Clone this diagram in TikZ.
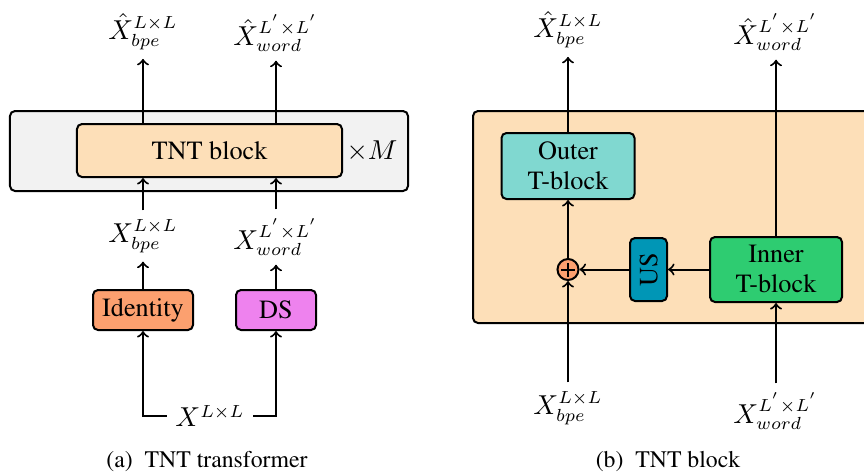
\documentclass[tikz,border=0pt]{standalone}
\usepackage[T1]{fontenc}
\usepackage{times}
\definecolor{stackfill}{HTML}{F2F2F2}
\definecolor{blockfill}{HTML}{FDDFB8}
\definecolor{idfill}{HTML}{FCA06F}
\definecolor{dsfill}{HTML}{EE82EE}
\definecolor{outerfill}{HTML}{80D8D0}
\definecolor{innerfill}{HTML}{2ECC71}
\definecolor{usfill}{HTML}{0096B6}
\tikzset{
	blk/.style = {draw, thick, rounded corners = 2pt, align = center, inner sep = 0pt},
	arr/.style = {->, thick},
	capt/.style = {font = \fontsize{9.5}{11}\selectfont},
}
\begin{document}
\begin{tikzpicture}[x = 0.4pt, y = -0.4pt, font = \fontsize{10.5}{12}\selectfont]
	\clip ( 0, 0 ) rectangle ( 864, 475 );
	% (a) TNT transformer
	\node [blk, fill = stackfill, minimum width = 159.2pt, minimum height = 32pt] (stack) at ( 209, 151 ) {};
	\node [blk, fill = blockfill, minimum width = 106pt, minimum height = 21.2pt] (tnt) at ( 209.5, 150.5 ) {TNT block};
	\node [anchor = west, inner sep = 0pt] (rep) at ( 346, 151 ) {$\times M$};
	\node (bpeHatA) at ( 143, 32 ) {$\hat{X}^{L \times L}_{bpe}$};
	\node (wordHatA) at ( 276, 33 ) {$\hat{X}^{L^{'} \times L^{'}}_{word}$};
	\node (bpeA) at ( 143, 236 ) {$X^{L \times L}_{bpe}$};
	\node (wordA) at ( 276, 237 ) {$X^{L^{'} \times L^{'}}_{word}$};
	\node [blk, fill = idfill, minimum width = 40pt, minimum height = 16pt] (ident) at ( 143, 310 ) {Identity};
	\node [blk, fill = dsfill, minimum width = 32pt, minimum height = 16pt] (ds) at ( 276, 310 ) {DS};
	\node (xin) at ( 210, 416 ) {$X^{L \times L}$};
	\node [capt] (capA) at ( 207, 462 ) {(a)\hspace{0.5em}TNT transformer};
	\draw [arr] (tnt.north -| bpeHatA) -- (bpeHatA);
	\draw [arr] (tnt.north -| wordHatA) -- (wordHatA);
	\draw [arr] (bpeA) -- (bpeA |- tnt.south);
	\draw [arr] (wordA) -- (wordA |- tnt.south);
	\draw [arr] (ident) -- (bpeA);
	\draw [arr] (ds) -- (wordA);
	\draw [arr] (xin.west) -| (ident);
	\draw [arr] (xin.east) -| (ds);
	% (b) TNT block
	\node [blk, fill = blockfill, minimum width = 162.8pt, minimum height = 84.8pt] (tntB) at ( 676.5, 217 ) {};
	\node [blk, fill = outerfill, minimum width = 53.2pt, minimum height = 26.4pt] (outer) at ( 568, 166 ) {Outer\\T-block};
	\node [blk, fill = innerfill, minimum width = 52.8pt, minimum height = 26pt] (inner) at ( 776, 269.5 ) {Inner\\T-block};
	\node [blk, fill = usfill, rotate = 90, minimum width = 25.2pt, minimum height = 14.8pt] (us) at ( 648.5, 269.5 ) {US};
	\node [circle, draw, thick, fill = idfill, minimum size = 8.4pt, inner sep = 0pt,
		path picture = {
			\draw [thick] (path picture bounding box.center) ++ ( -2.8pt, 0 ) -- ++ ( 5.6pt, 0 );
			\draw [thick] (path picture bounding box.center) ++ ( 0, -2.8pt ) -- ++ ( 0, 5.6pt );
		}] (plus) at ( 568, 269.5 ) {};
	\node (bpeHatB) at ( 568, 30 ) {$\hat{X}^{L \times L}_{bpe}$};
	\node (wordHatB) at ( 776, 32 ) {$\hat{X}^{L^{'} \times L^{'}}_{word}$};
	\node (bpeB) at ( 568, 408 ) {$X^{L \times L}_{bpe}$};
	\node (wordB) at ( 776, 411 ) {$X^{L^{'} \times L^{'}}_{word}$};
	\node [capt] (capB) at ( 668, 462 ) {(b)\hspace{0.5em}TNT block};
	\draw [arr] (outer) -- (bpeHatB);
	\draw [arr] (inner) -- (wordHatB);
	\draw [arr] (inner) -- (us);
	\draw [arr] (us) -- (plus);
	\draw [arr] (plus) -- (outer);
	\draw [arr] (bpeB) -- (plus);
	\draw [arr] (wordB) -- (inner);
\end{tikzpicture}
\end{document}
